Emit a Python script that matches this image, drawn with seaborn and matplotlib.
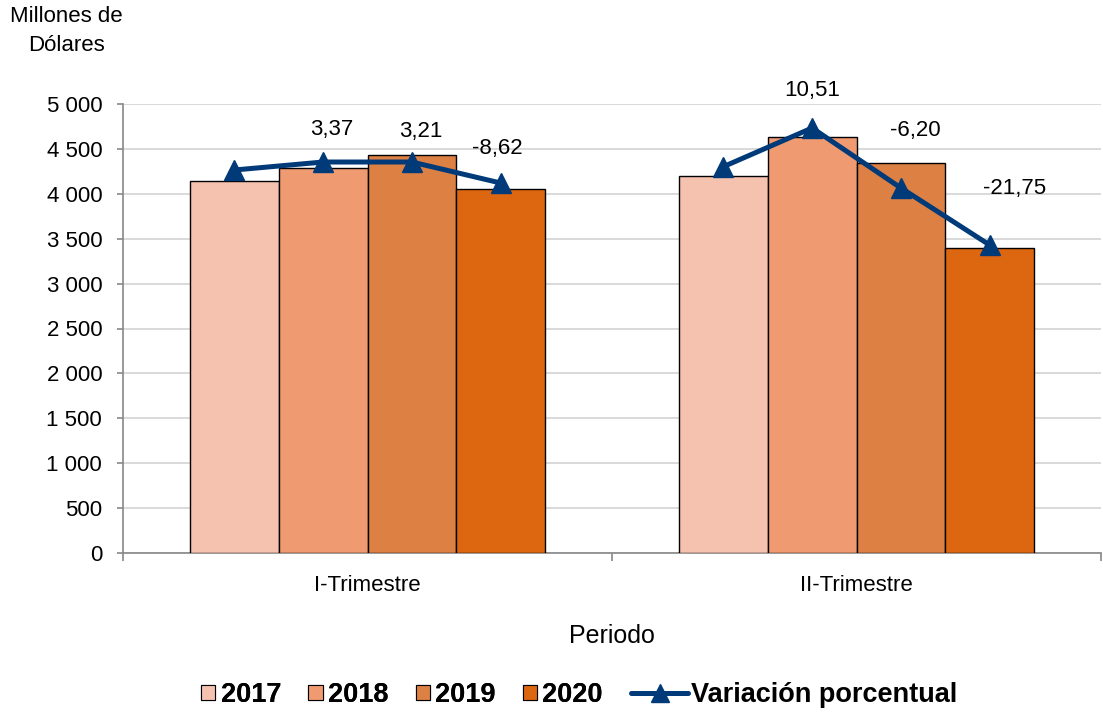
import matplotlib
matplotlib.use("Agg")
import matplotlib.pyplot as plt
import matplotlib.ticker as mticker
from matplotlib.lines import Line2D
from matplotlib.patches import Patch
import seaborn as sns
import pandas as pd

# ---------------- data ----------------
categories = ["I-Trimestre", "II-Trimestre"]
years = ["2017", "2018", "2019", "2020"]
v2017 = [4143, 4198]
v2018 = [4288, 4636]
v2019 = [4433, 4340]
v2020 = [4050, 3400]
# position of the "Variación porcentual" line (read in axis units)
line_I = [4265, 4354, 4354, 4120]
line_II = [4302, 4733, 4065, 3430]
# labels of the line
var_I = [None, 3.37, 3.21, -8.62]
var_II = [None, 10.51, -6.20, -21.75]
yticks = [0, 500, 1000, 1500, 2000, 2500, 3000, 3500, 4000, 4500, 5000]

# ---------------- style ----------------
sns.set_theme(style="white")
plt.rcParams['font.family'] = ['Liberation Sans', 'DejaVu Sans']
plt.rcParams['text.color'] = 'black'
plt.rcParams['axes.labelcolor'] = 'black'

colors = ["#F4C2AE", "#F09A72", "#DC8044", "#DD6611"]
line_color = "#003A78"
label_offsets = [[(0, 0), (9, 33), (9, 31), (-3, 35)],
                 [(0, 0), (0, 37), (14, 57), (25, 56)]]

rows = []
for yr, vals in zip(years, [v2017, v2018, v2019, v2020]):
    for c, v in zip(categories, vals):
        rows.append({"Periodo": c, "Año": yr, "Valor": v})
df = pd.DataFrame(rows)

fig = plt.figure(figsize=(11.03, 7.13), dpi=100)
ax = fig.add_axes([123/1103, (713-553)/713, (1101-123)/1103, (553-104)/713])

sns.barplot(data=df, x="Periodo", y="Valor", hue="Año", order=categories,
            hue_order=years, palette=colors, width=0.726, edgecolor="black",
            linewidth=1.0, saturation=1, ax=ax, legend=False, zorder=3)

# bar centres for each category
centers = [[None]*4 for _ in categories]
for hi, cont in enumerate(ax.containers):
    for ci, p in enumerate(cont.patches):
        centers[ci][hi] = p.get_x() + p.get_width()/2

for ci, (lv, vv) in enumerate(zip([line_I, line_II], [var_I, var_II])):
    ax.plot(centers[ci], lv, color=line_color, lw=3.6, marker="^", ms=14,
            zorder=5, solid_joinstyle="round")
    for hi, val in enumerate(vv):
        if val is None:
            continue
        txt = f"{val:.2f}".replace(".", ",")
        dx, dy = label_offsets[ci][hi]
        ax.annotate(txt, (centers[ci][hi], lv[hi]), xytext=(dx, dy),
                    textcoords="offset pixels", ha="center", va="center",
                    fontsize=16, color="black", zorder=6)

ax.set_ylim(0, 5000)
ax.set_xlim(-0.5, 1.5)
ax.set_yticks(yticks)
ax.yaxis.set_major_formatter(mticker.FuncFormatter(lambda v, p: f"{int(v):,}".replace(",", " ")))
ax.yaxis.grid(True, color="#D9D9D9", lw=1.4, zorder=0)
ax.set_axisbelow(True)
for s in ["top", "right"]:
    ax.spines[s].set_visible(False)
for s in ["left", "bottom"]:
    ax.spines[s].set_color("#888888")
    ax.spines[s].set_linewidth(1.2)
ax.tick_params(axis="y", left=True, length=4.5, width=1.2, color="#888888",
               labelsize=16, labelcolor="black", pad=10.5)
ax.tick_params(axis="x", which="major", length=0, labelsize=16, labelcolor="black", pad=16)
ax.set_xticks([-0.5, 0.5, 1.5], minor=True)
ax.tick_params(axis="x", which="minor", bottom=True, length=6, width=1.2, color="#888888")
ax.set_ylabel("")
ax.set_xlabel("Periodo", fontsize=18, labelpad=20, color="black")

fig.text(66/1103, 1 - 31/713, "Millones de\nDólares", ha="center", va="center",
         fontsize=16, linespacing=1.45, color="black")

# legend: bars
handles = [Patch(facecolor=c, edgecolor="black", lw=0.8) for c in colors]
leg1 = fig.legend(handles, years, loc="center",
                  bbox_to_anchor=(402/1103, 1 - 695/713), ncol=4, frameon=False,
                  prop={"weight": "bold", "size": 19.5},
                  handlelength=0.52, handleheight=0.52, handletextpad=0.2,
                  columnspacing=1.0, labelcolor="black")
# legend: line
lh = Line2D([], [], color=line_color, lw=3.6, marker="^", ms=13)
leg2 = fig.legend([lh], ["Variación porcentual"], loc="center",
                  bbox_to_anchor=(794/1103, 1 - 695/713), frameon=False,
                  prop={"weight": "bold", "size": 19.5},
                  handlelength=2.1, handletextpad=0.1, labelcolor="black")
fig.add_artist(leg1)

fig.savefig("out.png", dpi=100)
